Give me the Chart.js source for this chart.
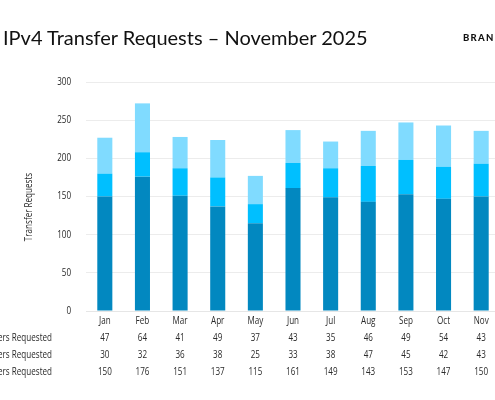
<!DOCTYPE html>
<html>
<head>
<meta charset="utf-8">
<script src="https://cdn.jsdelivr.net/npm/chart.js@4.4.1/dist/chart.umd.min.js"></script>
<style>
  html, body { margin: 0; padding: 0; background: #fff; overflow: hidden; }
  #wrap { position: relative; width: 500px; height: 400px; }
  #titulo { position: absolute; left: 3px; top: 25px; font-family: Lato, sans-serif; font-size: 20px; color: #111; white-space: nowrap; }
  #marca { position: absolute; left: 463px; top: 32px; font-family: Lato, sans-serif; font-weight: 900; font-size: 9.5px; letter-spacing: 1.3px; color: #111; white-space: nowrap; }
</style>
</head>
<body>
<div id="wrap">
  <canvas id="grafico" width="500" height="400"></canvas>
  <div id="titulo">IPv4 Transfer Requests – November 2025</div>
  <div id="marca">BRAN</div>
</div>
<script>
// Dados do gráfico
const meses = ['Jan', 'Feb', 'Mar', 'Apr', 'May', 'Jun', 'Jul', 'Aug', 'Sep', 'Oct', 'Nov'];
const rotulosSeries = ['Large Transfers Requested', 'Medium Transfers Requested', 'Small Transfers Requested'];
const serieTopo = [47, 64, 41, 49, 37, 43, 35, 46, 49, 54, 43];
const serieMeio = [30, 32, 36, 38, 25, 33, 38, 47, 45, 42, 43];
const serieBase = [150, 176, 151, 137, 115, 161, 149, 143, 153, 147, 150];
const ticksY = [0, 50, 100, 150, 200, 250, 300];

const fonteTicks = '10.5px "Open Sans", sans-serif';
const corTexto = '#2a2a2a';
const aperto = 0.77; // compressão horizontal (fonte condensada)

// Escreve texto "condensado"
function textoCondensado(ctx, texto, x, y, alinhamento, rot) {
  ctx.save();
  ctx.translate(x, y);
  if (rot) ctx.rotate(rot);
  ctx.scale(aperto, 1);
  ctx.textAlign = alinhamento;
  ctx.fillText(texto, 0, 0);
  ctx.restore();
}

// Plugin para desenhar rótulos dos eixos e a tabela de dados
const tabelaPlugin = {
  id: 'tabela',
  afterDraw(chart) {
    const ctx = chart.ctx;
    const x = chart.scales.x;
    const y = chart.scales.y;
    ctx.save();
    ctx.font = fonteTicks;
    ctx.fillStyle = corTexto;
    ctx.textBaseline = 'middle';

    // rótulos do eixo Y
    ticksY.forEach(v => textoCondensado(ctx, String(v), 71, y.getPixelForValue(v), 'right'));

    // rótulos do eixo X
    meses.forEach((m, i) => textoCondensado(ctx, m, x.getPixelForValue(i), 321, 'center'));

    // tabela de dados
    const linhas = [serieTopo, serieMeio, serieBase];
    const ys = [338, 355, 372];
    linhas.forEach((linha, r) => {
      textoCondensado(ctx, rotulosSeries[r], 52, ys[r], 'right');
      linha.forEach((v, i) => textoCondensado(ctx, String(v), x.getPixelForValue(i), ys[r], 'center'));
    });

    // título do eixo Y
    textoCondensado(ctx, 'Transfer Requests', 29, 207, 'center', -Math.PI / 2);
    ctx.restore();
  }
};

const ctx = document.getElementById('grafico').getContext('2d');
new Chart(ctx, {
  type: 'bar',
  data: {
    labels: meses,
    datasets: [{
      label: rotulosSeries[2],
      data: serieBase,
      backgroundColor: '#0288c0'
    }, {
      label: rotulosSeries[1],
      data: serieMeio,
      backgroundColor: '#00bfff'
    }, {
      label: rotulosSeries[0],
      data: serieTopo,
      backgroundColor: '#80dbff'
    }]
  },
  options: {
    responsive: false,
    animation: false,
    devicePixelRatio: 1,
    layout: { padding: { top: 82, left: 0, right: 0, bottom: 0 } },
    datasets: { bar: { categoryPercentage: 1, barPercentage: 0.4 } },
    plugins: { legend: { display: false }, tooltip: { enabled: false } },
    scales: {
      x: {
        stacked: true,
        grid: { display: false },
        border: { color: '#e6e6e6' },
        ticks: { display: false },
        afterFit: (s) => { s.height = 89; }
      },
      y: {
        stacked: true,
        min: 0,
        max: 300,
        afterBuildTicks: (s) => { s.ticks = ticksY.map(v => ({ value: v })); },
        grid: { color: '#ececec', drawTicks: false },
        border: { display: false },
        ticks: { display: false },
        afterFit: (s) => { s.width = 86; }
      }
    }
  },
  plugins: [tabelaPlugin]
});
</script>
</body>
</html>
